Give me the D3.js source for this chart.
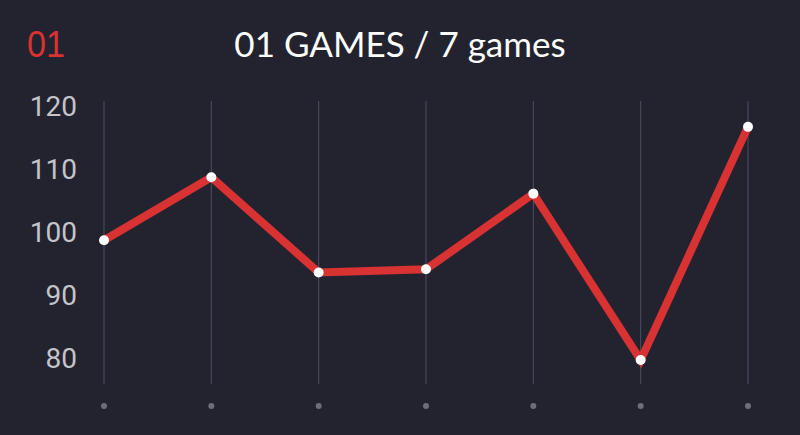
<!DOCTYPE html>
<html><head><meta charset="utf-8">
<script src="https://cdn.jsdelivr.net/npm/d3@7"></script>
<style>html,body{margin:0;padding:0;background:#23232f;}svg{display:block;}</style>
</head><body>
<svg id="c" width="800" height="435"></svg>
<script>
const games = ["1","2","3","4","5","6","7"];
const values = [98.7, 108.7, 93.6, 94.1, 106.1, 79.7, 116.7];
const yTicks = [80, 90, 100, 110, 120];
const titleText = "01 GAMES / 7 games";
const badgeText = "01";

const svg = d3.select("#c");
svg.append("rect").attr("width",800).attr("height",435).attr("fill","#23232f");

const x = d3.scalePoint().domain(games).range([104, 748]);
const y = d3.scaleLinear().domain([75.9, 120.8]).range([384, 101]);

// vertical grid lines
svg.append("g").selectAll("line").data(games).join("line")
  .attr("x1", d=>x(d)).attr("x2", d=>x(d))
  .attr("y1", y(120.8)).attr("y2", y(75.9))
  .attr("stroke", "#4c4c66").attr("stroke-width", 1);

// y axis labels
const yAxis = d3.axisLeft(y).tickValues(yTicks).tickSize(0).tickPadding(0);
const ga = svg.append("g").attr("transform","translate(77,0)").call(yAxis);
ga.select(".domain").remove();
ga.selectAll("text").attr("fill","#c4c4ca").style("font-family","Roboto, sans-serif").style("font-size","28px").attr("dy","0.35em");

// bottom dots
svg.append("g").selectAll("circle").data(games).join("circle")
  .attr("cx", d=>x(d)).attr("cy", 406).attr("r", 3).attr("fill", "#6e6e78");

// line
const line = d3.line().x((d,i)=>x(games[i])).y(d=>y(d));
svg.append("path").datum(values).attr("d", line)
  .attr("fill","none").attr("stroke","#d83232").attr("stroke-width",8)
  .attr("stroke-linejoin","miter").attr("stroke-linecap","butt");

svg.append("g").selectAll("circle").data(values).join("circle")
  .attr("cx", (d,i)=>x(games[i])).attr("cy", d=>y(d)).attr("r", 5).attr("fill", "#ffffff");

// title
svg.append("text").attr("x",400).attr("y",57).attr("text-anchor","middle")
  .attr("fill","#ffffff").style("font-family","Lato, sans-serif").style("font-size","35px")
  .text(titleText);

// badge
svg.append("text").attr("x",27).attr("y",57)
  .attr("fill","#d83232").style("font-family","'Liberation Sans', sans-serif").style("font-size","36px")
  .attr("textLength", 38).attr("lengthAdjust","spacingAndGlyphs")
  .text(badgeText);
</script>
</body></html>
